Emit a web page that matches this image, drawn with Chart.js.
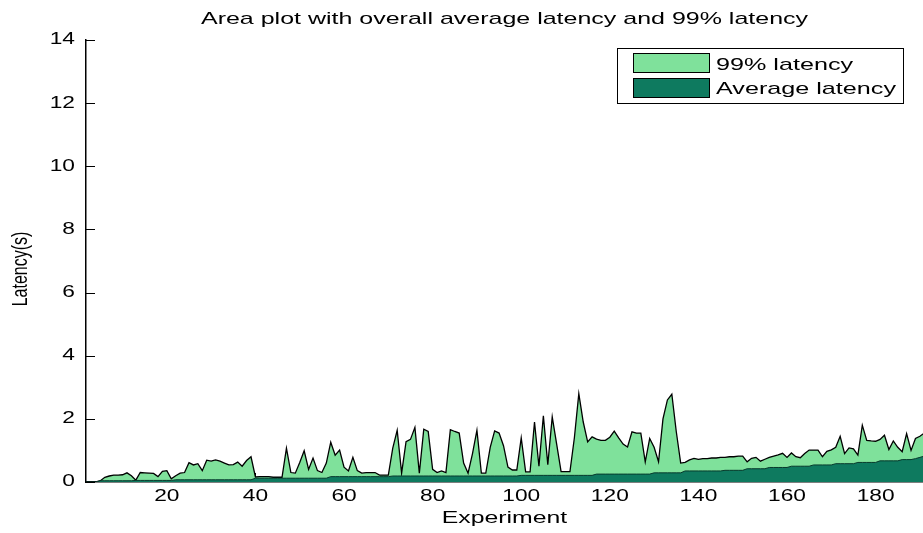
<!DOCTYPE html>
<html>
<head>
<meta charset="utf-8">
<script src="https://cdn.jsdelivr.net/npm/chart.js@4.4.1/dist/chart.umd.min.js"></script>
<style>
  html, body { margin: 0; padding: 0; background: #fff; }
  #wrap { width: 923px; height: 533px; }
</style>
</head>
<body>
<div id="wrap"><canvas id="latency-area" width="923" height="533"></canvas></div>
<script>
// 99th percentile latency per experiment (seconds)
const p99Latency = [
  0, 0, 0, 0, 0.04, 0.15, 0.19, 0.22, 0.22, 0.23,
  0.29, 0.2, 0.06, 0.3, 0.29, 0.28, 0.27, 0.17, 0.34, 0.36,
  0.1, 0.2, 0.28, 0.3, 0.61, 0.54, 0.58, 0.36, 0.69, 0.66,
  0.7, 0.66, 0.6, 0.54, 0.55, 0.63, 0.5, 0.68, 0.8, 0.16,
  0.17, 0.17, 0.17, 0.15, 0.15, 0.15, 1.07, 0.3, 0.28, 0.62,
  0.99, 0.4, 0.76, 0.36, 0.3, 0.6, 1.26, 0.85, 1.01, 0.47,
  0.35, 0.78, 0.36, 0.28, 0.3, 0.3, 0.3, 0.22, 0.22, 0.22,
  1.07, 1.64, 0.28, 1.28, 1.35, 1.73, 0.28, 1.67, 1.6, 0.4,
  0.3, 0.35, 0.3, 1.66, 1.6, 1.55, 0.6, 0.28, 0.9, 1.64,
  0.28, 0.28, 1.1, 1.62, 1.55, 1.15, 0.47, 0.38, 0.38, 1.4,
  0.32, 0.32, 1.9, 0.5, 2.1, 0.55, 2.06, 1.2, 0.33, 0.33,
  0.33, 1.4, 2.8, 1.9, 1.27, 1.43, 1.36, 1.32, 1.32, 1.42,
  1.61, 1.4, 1.2, 1.11, 1.59, 1.55, 1.55, 0.64, 1.38, 1.1,
  0.64, 2.0, 2.6, 2.78, 1.6, 0.6, 0.62, 0.7, 0.75, 0.72,
  0.74, 0.74, 0.76, 0.76, 0.78, 0.78, 0.8, 0.8, 0.82, 0.82,
  0.64, 0.75, 0.78, 0.66, 0.72, 0.78, 0.82, 0.86, 0.91, 0.78,
  0.92, 0.8, 0.77, 0.9, 1.01, 1.01, 1.01, 0.8, 0.97, 1.02,
  1.1, 1.45, 0.9, 1.08, 1.05, 0.85, 1.8, 1.32, 1.3, 1.29,
  1.35, 1.48, 1.03, 1.3, 1.1, 0.96, 1.53, 1.0, 1.38, 1.45,
  1.55,
];

// overall average latency per experiment (seconds)
const avgLatency = [
  0, 0, 0, 0, 0.04, 0.04, 0.04, 0.04, 0.04, 0.04,
  0.04, 0.04, 0.05, 0.05, 0.05, 0.05, 0.05, 0.05, 0.05, 0.05,
  0.05, 0.07, 0.07, 0.07, 0.07, 0.07, 0.07, 0.07, 0.07, 0.07,
  0.07, 0.07, 0.07, 0.07, 0.07, 0.07, 0.07, 0.07, 0.07, 0.12,
  0.12, 0.12, 0.12, 0.12, 0.12, 0.12, 0.12, 0.12, 0.12, 0.12,
  0.12, 0.12, 0.12, 0.12, 0.12, 0.12, 0.17, 0.17, 0.17, 0.17,
  0.17, 0.17, 0.17, 0.17, 0.17, 0.17, 0.17, 0.17, 0.17, 0.17,
  0.19, 0.19, 0.19, 0.19, 0.19, 0.19, 0.19, 0.19, 0.19, 0.19,
  0.19, 0.19, 0.19, 0.19, 0.19, 0.19, 0.19, 0.19, 0.19, 0.19,
  0.19, 0.19, 0.19, 0.19, 0.19, 0.19, 0.19, 0.19, 0.19, 0.21,
  0.21, 0.21, 0.21, 0.21, 0.21, 0.21, 0.21, 0.21, 0.21, 0.21,
  0.21, 0.21, 0.21, 0.21, 0.21, 0.21, 0.25, 0.25, 0.25, 0.25,
  0.25, 0.25, 0.25, 0.25, 0.25, 0.25, 0.25, 0.25, 0.25, 0.29,
  0.29, 0.29, 0.29, 0.29, 0.29, 0.29, 0.35, 0.35, 0.35, 0.35,
  0.35, 0.35, 0.35, 0.35, 0.35, 0.37, 0.37, 0.37, 0.37, 0.37,
  0.42, 0.42, 0.42, 0.42, 0.42, 0.46, 0.46, 0.46, 0.46, 0.46,
  0.5, 0.5, 0.5, 0.5, 0.5, 0.54, 0.54, 0.54, 0.54, 0.54,
  0.58, 0.58, 0.58, 0.58, 0.58, 0.62, 0.62, 0.62, 0.62, 0.62,
  0.67, 0.67, 0.67, 0.67, 0.67, 0.71, 0.71, 0.71, 0.74, 0.78,
  0.82,
];

const experiments = Array.from({ length: p99Latency.length }, (_, i) => i + 1);
const xTickValues = [20, 40, 60, 80, 100, 120, 140, 160, 180];
const yTickValues = [0, 2, 4, 6, 8, 10, 12, 14];

const lightGreen = "#7fe19b";
const darkGreen = "#0e7a5f";
const fontFamily = "'Liberation Sans', Arial, sans-serif";

const toPoints = (values) => values.map((v, i) => ({ x: experiments[i], y: v }));

// text in this figure is wide, so draw it stretched sideways
const drawText = (ctx, text, x, y, o) => {
  ctx.save();
  ctx.font = o.font;
  ctx.fillStyle = "#000";
  ctx.textAlign = o.align || "center";
  ctx.textBaseline = o.baseline || "middle";
  ctx.translate(x, y);
  if (o.rotate) ctx.rotate(o.rotate);
  ctx.scale(o.sx || 1, o.sy || 1);
  ctx.fillText(text, 0, 0);
  ctx.restore();
};

const tickMarks = {
  id: "tickMarks",
  beforeDatasetsDraw(chart) {
    const { ctx, chartArea, scales } = chart;
    ctx.save();
    ctx.strokeStyle = "#000";
    ctx.lineWidth = 1;
    ctx.beginPath();
    yTickValues.forEach((v) => {
      const py = Math.round(scales.y.getPixelForValue(v)) + 0.5;
      ctx.moveTo(chartArea.left, py);
      ctx.lineTo(chartArea.left + 9, py);
    });
    xTickValues.forEach((v) => {
      const px = Math.round(scales.x.getPixelForValue(v)) + 0.5;
      ctx.moveTo(px, chartArea.bottom);
      ctx.lineTo(px, chartArea.bottom - 9);
    });
    ctx.stroke();
    ctx.restore();
  },
  afterDraw(chart) {
    const { ctx, chartArea, scales } = chart;
    const tickFont = "16px " + fontFamily;

    yTickValues.forEach((v) => {
      drawText(ctx, String(v), chartArea.left - 11, scales.y.getPixelForValue(v), {
        font: tickFont, align: "right", sx: 1.42,
      });
    });
    xTickValues.forEach((v) => {
      drawText(ctx, String(v), scales.x.getPixelForValue(v), chartArea.bottom + 15, {
        font: tickFont, sx: 1.42,
      });
    });

    const midX = (chartArea.left + chartArea.right) / 2;
    drawText(ctx, "Area plot with overall average latency and 99% latency", midX, 19, {
      font: "17px " + fontFamily, sx: 1.47,
    });
    drawText(ctx, "Experiment", midX, chartArea.bottom + 37, {
      font: "16px " + fontFamily, sx: 1.55,
    });
    drawText(ctx, "Latency(s)", 21, (chartArea.top + chartArea.bottom) / 2 + 8, {
      font: "16px " + fontFamily, rotate: -Math.PI / 2, sy: 1.4,
    });

    // legend box
    ctx.save();
    ctx.fillStyle = "#fff";
    ctx.strokeStyle = "#000";
    ctx.lineWidth = 1;
    ctx.fillRect(617.5, 48.5, 286, 55);
    ctx.strokeRect(617.5, 48.5, 286, 55);
    ctx.fillStyle = lightGreen;
    ctx.fillRect(633.5, 53.5, 76, 19);
    ctx.strokeRect(633.5, 53.5, 76, 19);
    ctx.fillStyle = darkGreen;
    ctx.fillRect(633.5, 78.5, 76, 19);
    ctx.strokeRect(633.5, 78.5, 76, 19);
    ctx.restore();
    const legendFont = "17px " + fontFamily;
    drawText(ctx, "99% latency", 716, 70, { font: legendFont, align: "left", baseline: "alphabetic", sx: 1.48 });
    drawText(ctx, "Average latency", 716, 94, { font: legendFont, align: "left", baseline: "alphabetic", sx: 1.48 });
  },
};

const ctx = document.getElementById("latency-area");

new Chart(ctx, {
  type: "line",
  data: {
    datasets: [
      {
        label: "Average latency",
        data: toPoints(avgLatency),
        order: 1,
        fill: "origin",
        backgroundColor: darkGreen,
        borderColor: "#07392c",
        borderWidth: 1,
        pointRadius: 0,
        tension: 0,
      },
      {
        label: "99% latency",
        data: toPoints(p99Latency),
        order: 2,
        fill: "origin",
        backgroundColor: lightGreen,
        borderColor: "#000",
        borderWidth: 1.3,
        pointRadius: 0,
        tension: 0,
      },
    ],
  },
  options: {
    responsive: false,
    animation: false,
    devicePixelRatio: 1,
    layout: { padding: { left: 86, right: 0, top: 40, bottom: 51 } },
    plugins: {
      legend: { display: false },
      title: { display: false },
      tooltip: { enabled: false },
    },
    scales: {
      x: {
        type: "linear",
        min: 1.75,
        max: 190.7,
        grid: { display: false },
        ticks: { display: false },
        border: { display: true, color: "#000", width: 1.5 },
        afterFit: (scale) => { scale.height = 0; },
      },
      y: {
        min: 0,
        max: 14,
        grid: { display: false },
        ticks: { display: false },
        border: { display: true, color: "#000", width: 1.5 },
        afterFit: (scale) => { scale.width = 0; },
      },
    },
  },
  plugins: [tickMarks],
});
</script>
</body>
</html>
